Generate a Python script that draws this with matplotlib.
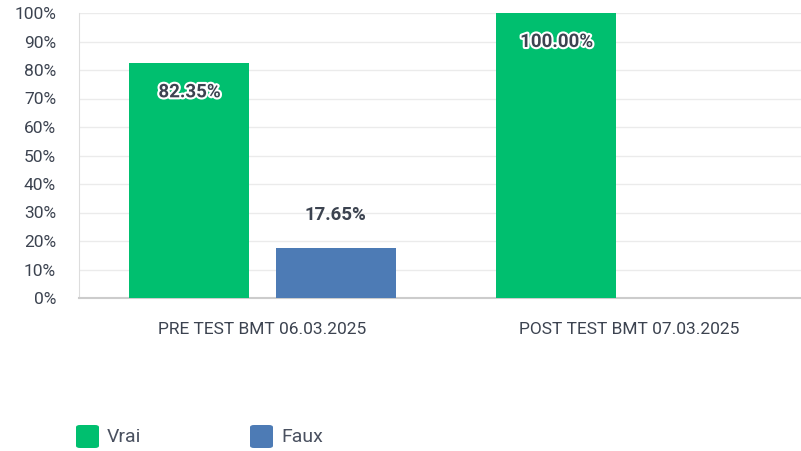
import matplotlib
matplotlib.use("Agg")
import matplotlib.pyplot as plt
import matplotlib.patheffects as pe
from matplotlib.patches import FancyBboxPatch
import numpy as np

categories = ["PRE TEST BMT 06.03.2025", "POST TEST BMT 07.03.2025"]
series_names = ["Vrai", "Faux"]
vrai = [82.35, 100.0]
faux = [17.65, 0.0]
colors = ["#00BF6F", "#4D7BB5"]
yticks = [0, 10, 20, 30, 40, 50, 60, 70, 80, 90, 100]

plt.rcParams['font.family'] = ['Roboto', 'DejaVu Sans']
text_color = "#3C4350"

W, H = 801, 451
fig = plt.figure(figsize=(W/100, H/100), dpi=100)
left, right, top, bottom = 79, 813, 13, 298
ax = fig.add_axes([left/W, 1-bottom/H, (right-left)/W, (bottom-top)/H])

x = np.arange(len(categories))
bw = 0.327
off = 0.199
for vals, c, o in [(vrai, colors[0], -off), (faux, colors[1], off)]:
    bars = ax.bar(x + o, vals, width=bw, color=c, zorder=3)
    for xi, v in zip(x + o, vals):
        if v <= 0:
            continue
        if v > 50:
            t = ax.annotate(f"{v:.2f}%", (xi, v), xytext=(0, -29), textcoords="offset pixels",
                            ha="center", va="center", fontsize=13.5, fontweight="bold",
                            color=text_color, zorder=5)
            t.set_path_effects([pe.withStroke(linewidth=3, foreground="white")])
        else:
            ax.annotate(f"{v:.2f}%", (xi, v), xytext=(0, 33), textcoords="offset pixels",
                        ha="center", va="center", fontsize=13.5, fontweight="bold",
                        color=text_color, zorder=5)

ax.set_xlim(-0.5, 1.5)
ax.set_ylim(0, 100)
ax.set_yticks(yticks)
ax.set_yticklabels([f"{t}%" for t in yticks])
ax.set_xticks(x)
ax.set_xticklabels(categories)
ax.tick_params(axis="both", length=0, labelsize=12.5, colors=text_color)
ax.tick_params(axis="y", pad=16.5)
ax.tick_params(axis="x", pad=17)
for lbl in ax.get_yticklabels():
    lbl.set_horizontalalignment("right")
ax.grid(axis="y", color="#EBEBEB", linewidth=1, zorder=0)
for s in ["top", "right"]:
    ax.spines[s].set_visible(False)
ax.spines["left"].set_color("#DDDDDD")
ax.spines["bottom"].set_color("#CCCCCC")
ax.spines["bottom"].set_linewidth(1.5)

# legend
for i, (name, c) in enumerate(zip(series_names, colors)):
    x0 = 76 + i * 174
    patch = FancyBboxPatch((x0/W, 1-448/H), 23/W, 23/H,
                           boxstyle="round,pad=0,rounding_size=0.005",
                           transform=fig.transFigure, facecolor=c, edgecolor="none")
    fig.patches.append(patch)
    fig.text((x0+31)/W, 1-437/H, name, fontsize=14, color="#4A5160", va="center", ha="left")

fig.savefig("out.png", dpi=100)
